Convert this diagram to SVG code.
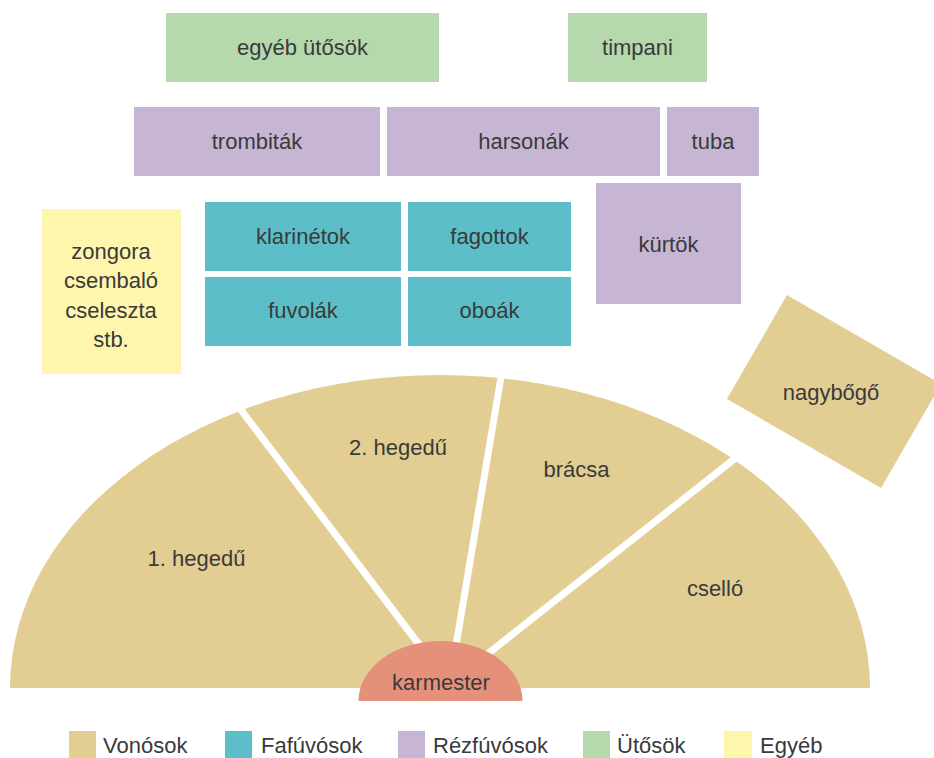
<svg xmlns="http://www.w3.org/2000/svg" xmlns:xlink="http://www.w3.org/1999/xlink" width="934" height="758" viewBox="0 0 934 758">
<style>
text{font-family:"Liberation Sans",Arial,sans-serif;font-size:22px;fill:#3a3a3a;text-anchor:middle}
.lg{text-anchor:start}
.str{fill:#E2CE93}
.wood{fill:#5BBEC8}
.brass{fill:#C6B6D3}
.perc{fill:#B5D8AD}
.other{fill:#FFF6AE}
.cond{fill:#E5907A}
</style>
<defs>
<path id="half" d="M10,688 A430,313 0 0 1 870,688 Z"/>
<clipPath id="c1"><polygon points="0,350 191.1,350 456.6,700 0,700"/></clipPath>
<clipPath id="c2"><polygon points="199.9,350 502,350 447.4,676"/></clipPath>
<clipPath id="c3"><polygon points="509,350 800,350 800,402.6 454.5,675.5"/></clipPath>
<clipPath id="c4"><polygon points="800,411.6 430,703.9 900,703.9 900,411.6"/></clipPath>
</defs>
<rect width="934" height="758" fill="#fff"/>

<g id="egyeb-utosok"><rect class="perc" x="166" y="13" width="273" height="69"/><text x="302.5" y="54.5">egyéb ütősök</text></g>
<g id="timpani"><rect class="perc" x="568" y="13" width="139" height="69"/><text x="637.5" y="54.5">timpani</text></g>

<g id="trombitak"><rect class="brass" x="134" y="107" width="246" height="69"/><text x="257" y="148.5">trombiták</text></g>
<g id="harsonak"><rect class="brass" x="387" y="107" width="273" height="69"/><text x="523.5" y="148.5">harsonák</text></g>
<g id="tuba"><rect class="brass" x="667" y="107" width="92" height="69"/><text x="713" y="148.5">tuba</text></g>
<g id="kurtok"><rect class="brass" x="596" y="183" width="145" height="121"/><text x="668.5" y="251.5">kürtök</text></g>

<g id="zongora"><rect class="other" x="42" y="209" width="139" height="165"/>
<text x="111" y="258.5">zongora</text><text x="111" y="288">csembaló</text><text x="111" y="317.5">cseleszta</text><text x="111" y="347">stb.</text></g>

<g id="klarinetok"><rect class="wood" x="205" y="202" width="196" height="69"/><text x="303" y="243.5">klarinétok</text></g>
<g id="fagottok"><rect class="wood" x="408" y="202" width="163" height="69"/><text x="489.5" y="243.5">fagottok</text></g>
<g id="fuvolak"><rect class="wood" x="205" y="277" width="196" height="69"/><text x="303" y="318">fuvolák</text></g>
<g id="oboak"><rect class="wood" x="408" y="277" width="163" height="69"/><text x="489.5" y="318">oboák</text></g>

<g id="nagybogo"><rect class="str" x="-89" y="-60" width="178" height="120" transform="translate(834,391.5) rotate(30)"/><text x="831" y="400">nagybőgő</text></g>

<g id="hegedu1"><use xlink:href="#half" href="#half" class="str" clip-path="url(#c1)"/><text x="196.5" y="566">1. hegedű</text></g>
<g id="hegedu2"><use xlink:href="#half" href="#half" class="str" clip-path="url(#c2)"/><text x="398" y="455">2. hegedű</text></g>
<g id="bracsa"><use xlink:href="#half" href="#half" class="str" clip-path="url(#c3)"/><text x="576.5" y="477">brácsa</text></g>
<g id="csello"><use xlink:href="#half" href="#half" class="str" clip-path="url(#c4)"/><text x="715" y="596">cselló</text></g>

<g id="karmester"><path class="cond" d="M358.5,701 A82,60 0 0 1 522.5,701 Z"/><text x="441" y="690">karmester</text></g>

<g id="legend">
<rect class="str" x="69" y="731" width="27" height="28"/><text class="lg" x="103" y="753">Vonósok</text>
<rect class="wood" x="225" y="731" width="27" height="28"/><text class="lg" x="261" y="753">Fafúvósok</text>
<rect class="brass" x="398" y="731" width="27" height="28"/><text class="lg" x="433" y="753">Rézfúvósok</text>
<rect class="perc" x="583" y="731" width="27" height="28"/><text class="lg" x="617" y="753">Ütősök</text>
<rect class="other" x="724" y="731" width="28" height="28"/><text class="lg" x="760" y="753">Egyéb</text>
</g>
</svg>
